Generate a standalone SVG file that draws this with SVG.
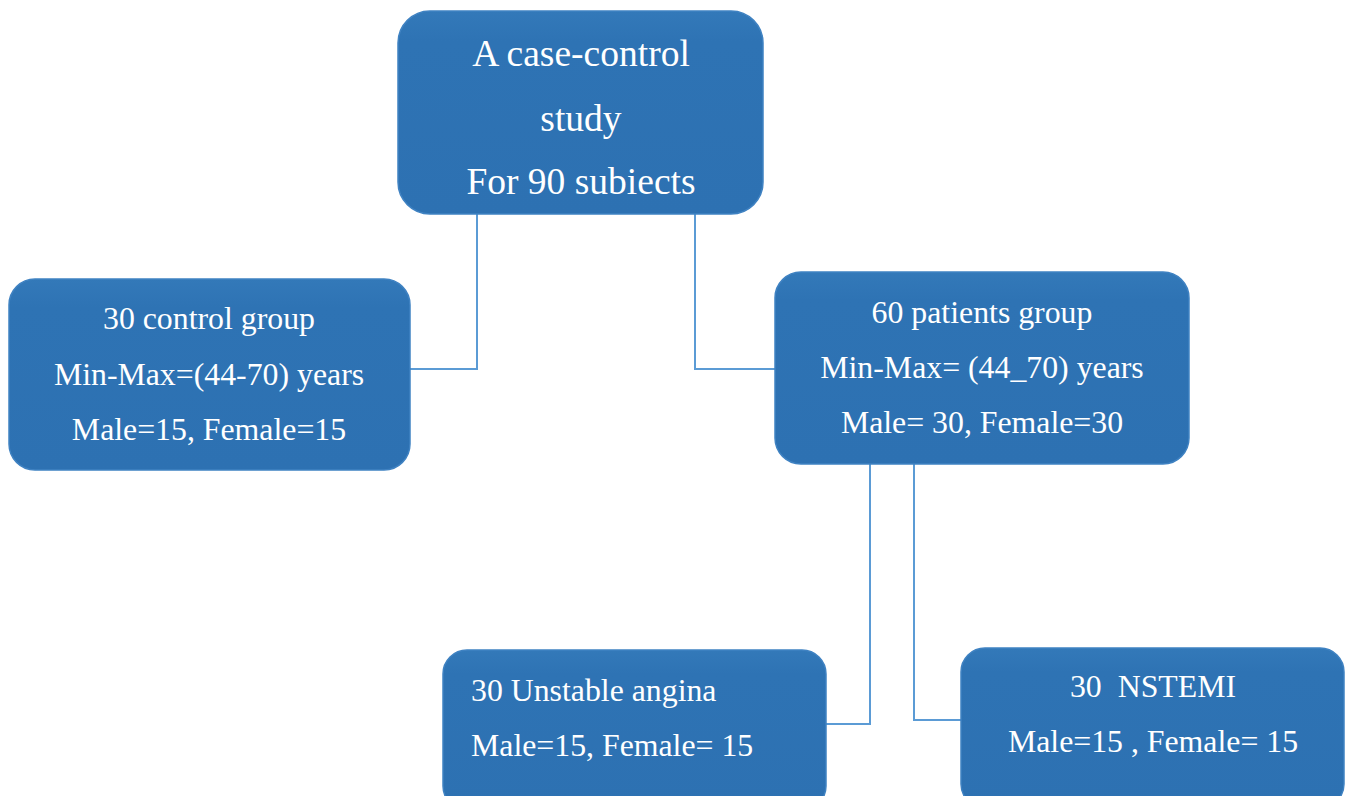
<svg xmlns="http://www.w3.org/2000/svg" width="1351" height="796" viewBox="0 0 1351 796">
<defs>
<linearGradient id="g" x1="0" y1="0" x2="0" y2="1">
<stop offset="0" stop-color="#3379B9"/>
<stop offset="0.15" stop-color="#2E73B4"/>
<stop offset="1" stop-color="#2D71B2"/>
</linearGradient>
<style>
.box{fill:url(#g);stroke:#3F82C2;stroke-width:1.5}
.t{font-family:"Liberation Serif","Times New Roman",serif;fill:#fff;font-size:31.8px}
.big{font-size:37.5px}
.c{text-anchor:middle}
.ln{fill:none;stroke:#5B9BD5;stroke-width:2}
</style>
</defs>
<rect width="1351" height="796" fill="#fff"/>
<g id="connectors">
<polyline class="ln" points="477,214 477,369 410,369"/>
<polyline class="ln" points="695,214 695,369 775,369"/>
<polyline class="ln" points="870,464 870,724 826,724"/>
<polyline class="ln" points="914,464 914,720 961,720"/>
</g>
<g id="study">
<rect class="box" x="398" y="11" width="365" height="203" rx="32"/>
<text class="t big c" x="581" y="66">A case-control</text>
<text class="t big c" x="581" y="131">study</text>
<text class="t big c" x="581" y="194">For 90 subiects</text>
</g>
<g id="control">
<rect class="box" x="9" y="279" width="401" height="191" rx="26"/>
<text class="t c" x="209" y="329">30 control group</text>
<text class="t c" x="209" y="385">Min-Max=(44-70) years</text>
<text class="t c" x="209" y="440">Male=15, Female=15</text>
</g>
<g id="patients">
<rect class="box" x="775" y="272" width="414" height="192" rx="26"/>
<text class="t c" x="982" y="323">60 patients group</text>
<text class="t c" x="982" y="378">Min-Max= (44_70) years</text>
<text class="t c" x="982" y="433">Male= 30, Female=30</text>
</g>
<g id="unstable">
<rect class="box" x="443" y="650" width="383" height="160" rx="24"/>
<text class="t" x="471" y="701">30 Unstable angina</text>
<text class="t" x="471" y="756">Male=15, Female= 15</text>
</g>
<g id="nstemi">
<rect class="box" x="961" y="648" width="383" height="160" rx="24"/>
<text class="t c" x="1153" y="697" xml:space="preserve">30  NSTEMI</text>
<text class="t c" x="1153" y="752">Male=15 , Female= 15</text>
</g>
</svg>
